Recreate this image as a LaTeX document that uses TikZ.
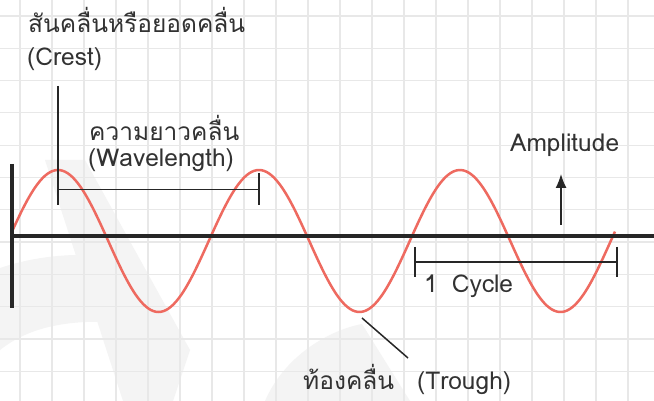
\documentclass[tikz,border=0pt]{standalone}
\usepackage{fontspec}
\newfontfamily\thaifont[Script=Thai]{Loma}
\usetikzlibrary{arrows.meta}
\definecolor{wavered}{RGB}{238,106,96}
\definecolor{inkgray}{RGB}{38,38,38}
\definecolor{textgray}{RGB}{50,50,50}
\definecolor{gridgray}{RGB}{232,232,232}
\definecolor{markgray}{RGB}{244,244,244}

\begin{document}
\begin{tikzpicture}[
    x=1pt, y=-1pt,
    font=\thaifont\fontsize{24.5}{28}\selectfont,
    txt/.style={inner sep=0pt, anchor=base west, text=textgray},
    axis/.style={line width=4pt, draw=inkgray},
    guide/.style={line width=1.5pt, draw=inkgray},
    wave/.style={line width=2.5pt, draw=wavered},
    line/.style={-{Latex[length=14pt,width=11pt]}, line width=1.5pt, draw=inkgray}
]
\fill[white] (0,0) rectangle (654,401);
\useasboundingbox (0,0) rectangle (654,401);

\fill[markgray] (45,160) -- (85,160) -- (190,350) -- (173,401) -- (123,401) -- cycle;
\fill[markgray] (0,268) .. controls (30,258) and (60,254) .. (95,255) -- (110,322) .. controls (60,320) and (25,330) .. (0,350) -- cycle;
\fill[markgray] (265,401) .. controls (285,355) and (330,330) .. (362,324) -- (410,401) -- cycle;

\foreach \k in {0,...,19}
    \draw[gridgray, line width=1.2pt] (20+32*\k,0) -- (20+32*\k,401);
\foreach \k in {0,...,12}
    \draw[gridgray, line width=1.2pt] (0,16+32.3*\k) -- (654,16+32.3*\k);

\coordinate (axisLeft) at (12,236.5);
\coordinate (axisRight) at (654,236.5);
\coordinate (axisTop) at (12,164);
\coordinate (axisBottom) at (12,308);
\coordinate (crestTop) at (58,86);
\coordinate (crestFoot) at (58,205);
\coordinate (lengthLeft) at (58,189.5);
\coordinate (lengthRight) at (259,189.5);
\coordinate (lengthTickTop) at (259,173);
\coordinate (lengthTickFoot) at (259,205);
\coordinate (cycleLeft) at (415,262);
\coordinate (cycleRight) at (617,262);
\coordinate (cycleLeftTop) at (415,247);
\coordinate (cycleLeftFoot) at (415,277);
\coordinate (cycleRightTop) at (617,247);
\coordinate (cycleRightFoot) at (617,277);
\coordinate (ampFoot) at (561,225);
\coordinate (ampTip) at (561,174);
\coordinate (troughPoint) at (362,318);
\coordinate (troughLabel) at (408,358);

\draw[wave] plot[domain=12:615, samples=240, smooth] (\x, {241-71*sin(1.79104*(\x-7.75))});

\draw[axis] (axisLeft) -- (axisRight);
\draw[axis] (axisTop) -- (axisBottom);

\node[txt] (crestTh) at (28,33) {สันคลื่นหรือยอดคลื่น};
\node[txt] (crestEn) at (27,66) {(Crest)};
\node[txt] (lengthTh) at (89,141) {ความยาวคลื่น};
\node[txt] (lengthEn) at (88,167) {(Wavelength)};
\node[txt] (ampText) at (510,152) {Amplitude};
\node[txt] (cycleText) at (424,292) {1\hspace{14pt}Cycle};
\node[txt] (troughTh) at (303,389) {ท้องคลื่น};
\node[txt] (troughEn) at (417,389) {(Trough)};

\draw[guide] (crestTop) -- (crestFoot);
\draw[guide] (lengthLeft) -- (lengthRight);
\draw[guide] (lengthTickTop) -- (lengthTickFoot);
\draw[guide] (cycleLeft) -- (cycleRight);
\draw[guide] (cycleLeftTop) -- (cycleLeftFoot);
\draw[guide] (cycleRightTop) -- (cycleRightFoot);
\draw[line] (ampFoot) -- (ampTip);
\draw[guide] (troughPoint) -- (troughLabel);
\end{tikzpicture}
\end{document}
